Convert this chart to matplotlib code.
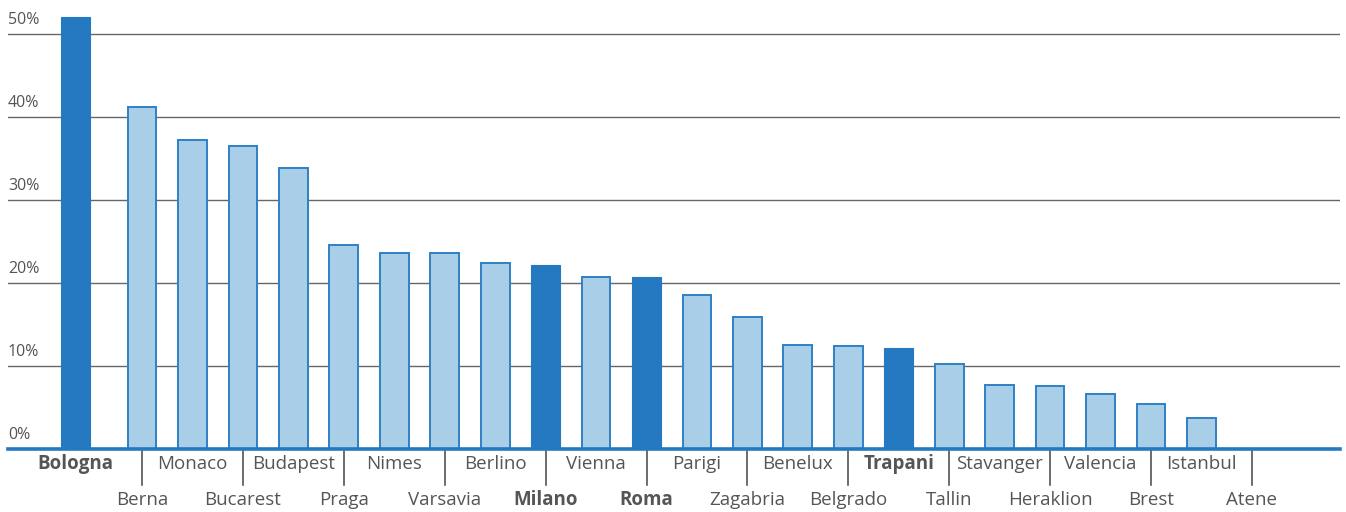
import matplotlib
matplotlib.use("Agg")
import matplotlib.pyplot as plt
import numpy as np

cities = ["Bologna", "Berna", "Monaco", "Bucarest", "Budapest", "Praga", "Nimes",
          "Varsavia", "Berlino", "Milano", "Vienna", "Roma", "Parigi", "Zagabria",
          "Benelux", "Belgrado", "Trapani", "Tallin", "Stavanger", "Heraklion",
          "Valencia", "Brest", "Istanbul", "Atene"]
values = [52.0, 41.2, 37.2, 36.5, 33.9, 24.6, 23.6, 23.6, 22.4, 22.2, 20.7, 20.7,
          18.6, 15.9, 12.5, 12.4, 12.2, 10.2, 7.7, 7.6, 6.6, 5.4, 3.7, 0.0]
highlight = ["Bologna", "Milano", "Roma", "Trapani"]
yticks = [0, 10, 20, 30, 40, 50]

DARK = "#2479C1"
LIGHT = "#A9CFE8"
EDGE = "#2E80C6"
TEXT = "#555555"
GRID = "#666666"

plt.rcParams['font.family'] = ['Open Sans', 'DejaVu Sans']

W, H = 1346, 512
fig = plt.figure(figsize=(W / 100, H / 100), dpi=100)
ax_l, ax_r, ax_b, ax_t = 8, 1340, 449, 0
ax = fig.add_axes([ax_l / W, (H - ax_b) / H, (ax_r - ax_l) / W, (ax_b - ax_t) / H])

x = np.arange(len(cities), dtype=float)
x[0] -= 0.32  # first bar sits slightly left in the original layout

px_per_unit = 50.45
x0 = 1 + (ax_l - 142) / px_per_unit
x1 = 1 + (ax_r - 142) / px_per_unit
ax.set_xlim(x0, x1)
ax.set_ylim(0, 449 / 8.3)

for xi, c, v in zip(x, cities, values):
    if v <= 0:
        continue
    if c in highlight:
        ax.bar(xi, v, width=0.57, color=DARK, edgecolor=DARK, linewidth=0.8, zorder=3)
    else:
        ax.bar(xi, v, width=0.57, color=LIGHT, edgecolor=EDGE, linewidth=1.4, zorder=3)

for t in yticks[1:]:
    ax.axhline(t, color=GRID, linewidth=1.0, zorder=1)
ax.axhline(0, color=DARK, linewidth=2.6, zorder=4, clip_on=False)

for t in yticks:
    ax.text(0.0, t + 0.7, f"{t}%", transform=ax.get_yaxis_transform(), ha="left",
            va="bottom", fontsize=11.5, color=TEXT)

trans = ax.get_xaxis_transform()
for i, (xi, c) in enumerate(zip(x, cities)):
    bold = c in highlight
    if i % 2 == 0:
        ax.text(xi, -0.034, c, transform=trans, ha="center", va="center",
                fontsize=13.5, color=TEXT, fontweight="bold" if bold else "normal",
                clip_on=False)
    else:
        ax.plot([xi, xi], [-0.005, -0.081], transform=trans, color="#444444",
                linewidth=1.1, clip_on=False)
        ax.text(xi, -0.114, c, transform=trans, ha="center", va="center",
                fontsize=13.5, color=TEXT, fontweight="bold" if bold else "normal",
                clip_on=False)

ax.axis("off")
fig.savefig("out.png", dpi=100)
